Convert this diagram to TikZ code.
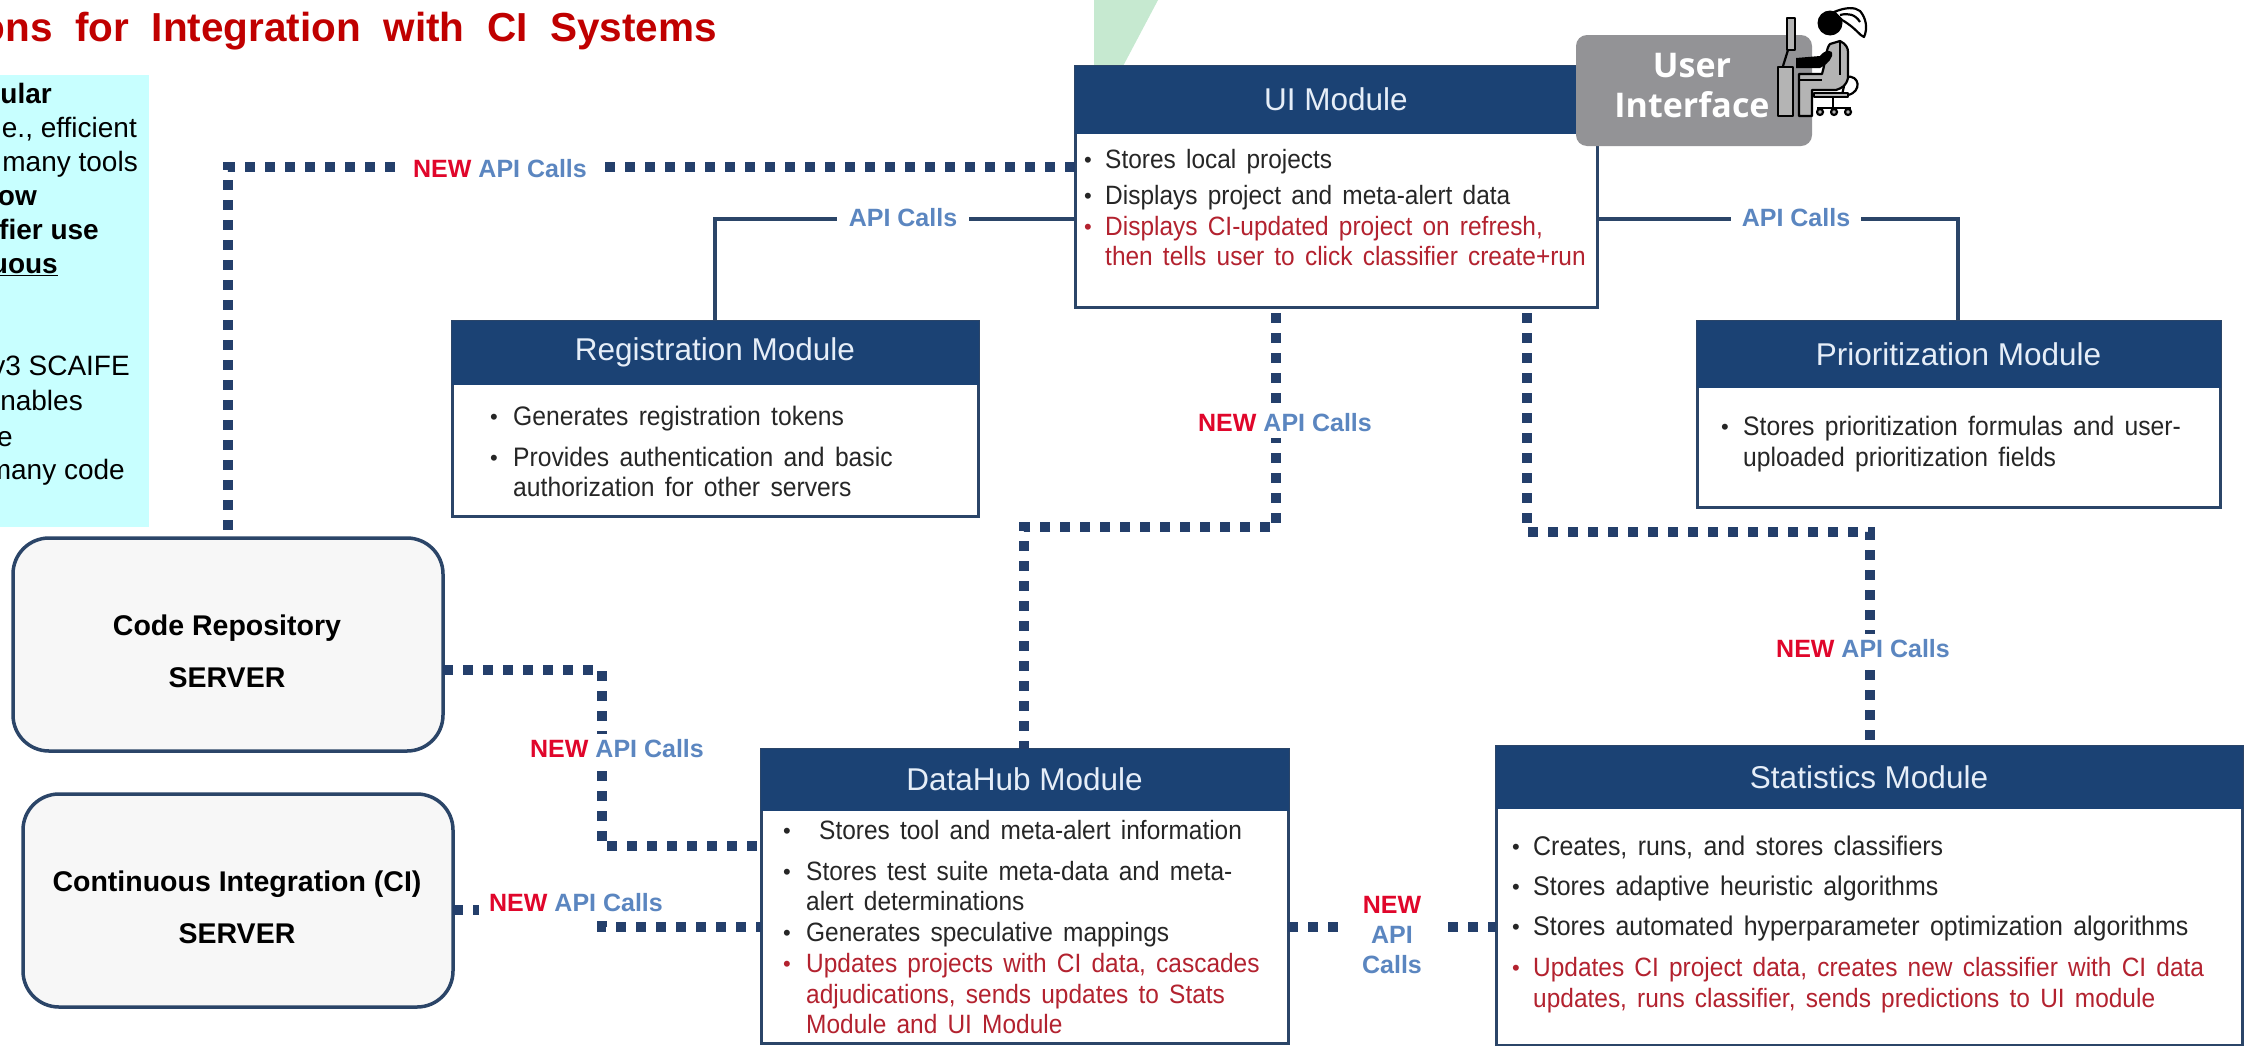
\documentclass[tikz,border=0pt]{standalone}
\usepackage{fontspec}
\setmainfont{Liberation Sans}
\newfontfamily\bodyf[WordSpace=1.5,FakeStretch=0.923]{Liberation Sans}
\newfontfamily\titlef[WordSpace=2]{Liberation Sans}
\newfontfamily\uif{Open Sans}
\definecolor{navy}{HTML}{1B4274}
\definecolor{dotnavy}{HTML}{243F6B}
\definecolor{edge}{HTML}{2B4568}
\definecolor{apiblue}{HTML}{5B86C0}
\definecolor{newred}{HTML}{E0062B}
\definecolor{txtred}{HTML}{B3222F}
\definecolor{txtdark}{HTML}{262626}
\definecolor{cyanbg}{HTML}{C8FFFF}
\definecolor{greentri}{HTML}{C6E9D0}
\definecolor{uigray}{HTML}{939396}
\definecolor{srv}{HTML}{F7F7F7}
\definecolor{headtxt}{HTML}{E6EEF8}
\definecolor{figgray}{HTML}{B4B4B4}
\definecolor{titlered}{HTML}{C00000}
\newcount\lineid
\def\bsize{26.5}
\tikzset{
  modbody/.style={draw=edge,line width=3pt,fill=white,rectangle,inner sep=0,outer sep=0},
  modhead/.style={fill=navy,draw=navy,line width=1pt,rectangle,inner sep=0,outer sep=0,text=headtxt,font=\fontsize{31.5}{31.5}\selectfont},
  srvbox/.style={draw=edge,line width=3.5pt,fill=srv,rounded corners=36pt,rectangle,inner sep=0,outer sep=0},
  srvtext/.style={anchor=base,font=\bfseries\fontsize{28.5}{28.5}\selectfont,text=black,inner sep=0},
  dotline/.style={draw=dotnavy,line width=10pt,dash pattern=on 10pt off 10pt},
  solidline/.style={draw=edge,line width=3.5pt},
  lab/.style={fill=white,inner sep=0,font=\bfseries\fontsize{25}{25}\selectfont},
  cyantext/.style={anchor=base east,inner sep=0,text=black,font=\fontsize{28}{28}\selectfont},
  cyanbold/.style={cyantext,font=\bfseries\fontsize{28}{28}\selectfont},
  linetext/.style={anchor=base west,yshift=-8.5pt,inner sep=0,font=\bodyf\fontsize{\bsize}{\bsize}\selectfont},
  bul/.style={anchor=base,yshift=-7.5pt,inner sep=0,font=\fontsize{22}{22}\selectfont},
  uitext/.style={anchor=base,inner sep=0,text=white,font=\uif\bfseries\fontsize{34}{34}\selectfont},
}
% module box: name, x1, y1, x2, y2, header bottom, title
\newcommand{\modbox}[7]{%
  \node[modbody,minimum width={#4-#2},minimum height={#5-#3}] (#1) at ({(#2+#4)/2},{(#3+#5)/2}) {};
  \node[modhead,minimum width={#4-#2},minimum height={#6-#3}] (#1head) at ({(#2+#4)/2},{(#3+#6)/2}) {#7};
}
% bullet line: colour, x bullet, x text, y, text
\newcommand{\bline}[5]{%
  \global\advance\lineid by 1
  \node[bul,text=#1] (b\the\lineid) at (#2,#4) {\textbullet};
  \node[linetext,text=#1] (t\the\lineid) at (#3,#4) {#5};
}
\newcommand{\contline}[4]{%
  \global\advance\lineid by 1
  \node[linetext,text=#1] (t\the\lineid) at (#2,#3) {#4};
}
\newcommand{\newapi}{\textcolor{newred}{NEW} \textcolor{apiblue}{API Calls}}
\begin{document}
\begin{tikzpicture}[x=1pt,y=-1pt]
\clip (0,0) rectangle (2248,1045);
\fill[white] (0,0) rectangle (2248,1045);
% decoration
\fill[greentri] (1094,0) -- (1158,0) -- (1122,68) -- (1094,68) -- cycle;
% title
\node[anchor=base east,inner sep=0,text=titlered,font=\titlef\bfseries\fontsize{40.5}{40.5}\selectfont] (title) at (717,41.5) {ons for Integration with CI Systems};
% cyan panel
\fill[cyanbg] (0,75) rectangle (149,527);
\node[cyanbold] (c1) at (52,103.5) {ular};
\node[cyantext] (c2) at (137,137.5) {e., efficient};
\node[cyantext] (c3) at (138,171.5) {many tools};
\node[cyanbold] (c4) at (37,205.5) {ow};
\node[cyanbold] (c5) at (99,239.5) {fier use};
\node[cyanbold] (c6) at (58,273.5) {\underline{uous}};
\node[cyantext] (c7) at (130,375) {v3 SCAIFE};
\node[cyantext] (c8) at (83,410) {nables};
\node[cyantext] (c9) at (13,446) {e};
\node[cyantext] (c10) at (125,479.5) {many code};
% modules
\modbox{ui}{1075}{66}{1597}{307}{133}{UI Module}
\modbox{reg}{452}{321}{978}{516}{384}{Registration Module}
\modbox{pri}{1697}{321}{2220}{507}{387}{Prioritization Module}
\modbox{hub}{761}{749}{1288}{1043}{810}{DataHub Module}
\modbox{stat}{1496}{746}{2242}{1045}{808}{Statistics Module}
% servers
\node[srvbox,minimum width=430pt,minimum height=213pt] (repo) at (228,644.5) {};
\node[srvbox,minimum width=430pt,minimum height=213pt] (ci) at (238,900.5) {};
\node[srvtext] (repo1) at (227,635.5) {Code Repository};
\node[srvtext] (repo2) at (227,687) {SERVER};
\node[srvtext] (ci1) at (237,891.5) {Continuous Integration (CI)};
\node[srvtext] (ci2) at (237,943.5) {SERVER};
% corners
\coordinate (k1) at (228,167);
\coordinate (k2) at (602,670);
\coordinate (k3) at (602,846);
\coordinate (k4) at (602,910);
\coordinate (k5) at (602,927);
\coordinate (k6) at (1276,527);
\coordinate (k7) at (1024,527);
\coordinate (k8) at (1527,532);
\coordinate (k9) at (1870,532);
\coordinate (k10) at (715,219);
\coordinate (k11) at (1958,219);
% connectors
\draw[dotline,shorten >=7pt] (ui.west |- k1) -- (k1) -- (repo.north);
\draw[dotline] (repo.east |- k2) -- (k2) -- (k3) -- (hub.west |- k3);
\draw[dotline] (ci.east |- k4) -- (k4) -- (k5) -- (hub.west |- k5);
\draw[dotline,shorten <=6pt] (ui.south -| k6) -- (k6) -- (k7) -- (hub.north -| k7);
\draw[dotline,shorten <=6pt] (ui.south -| k8) -- (k8) -- (k9) -- (stat.north -| k9);
\draw[dotline] (hub.east |- 0,927) -- (stat.west |- 0,927);
\draw[solidline] (ui.west |- k10) -- (k10) -- (reg.north -| k10);
\draw[solidline] (ui.east |- k11) -- (k11) -- (pri.north -| k11);
% labels
\node[lab,inner xsep=11pt,inner ysep=6pt] (l1) at (500,168.5) {\newapi};
\node[lab,inner xsep=10pt,inner ysep=6pt] (l2) at (617,749) {\newapi};
\node[lab,inner xsep=10pt,inner ysep=6pt] (l3) at (576,903) {\newapi};
\node[lab,inner xsep=8pt,inner ysep=6pt] (l4) at (1285,423) {\newapi};
\node[lab,inner xsep=8pt,inner ysep=6pt] (l5) at (1863,649) {\newapi};
\node[lab,inner xsep=12pt,inner ysep=6pt,text=apiblue] (l6) at (903,218) {API Calls};
\node[lab,inner xsep=11pt,inner ysep=6pt,text=apiblue] (l7) at (1796,218) {API Calls};
\node[lab,minimum width=104pt,minimum height=90pt,align=center] (l8) at (1392,935) {\textcolor{newred}{NEW}\\[5pt]\textcolor{apiblue}{API}\\[5pt]\textcolor{apiblue}{Calls}};
% module text
\bline{txtdark}{1088}{1105}{160}{Stores local projects}
\bline{txtdark}{1088}{1105}{196}{Displays project and meta-alert data}
\bline{txtred}{1088}{1105}{227}{Displays CI-updated project on refresh,}
\contline{txtred}{1105}{257}{then tells user to click classifier create+run}
\bline{txtdark}{787}{819}{831}{Stores tool and meta-alert information}
\bline{txtdark}{787}{806}{872}{Stores test suite meta-data and meta-}
\contline{txtdark}{806}{902}{alert determinations}
\bline{txtdark}{787}{806}{933}{Generates speculative mappings}
\bline{txtred}{787}{806}{964}{Updates projects with CI data, cascades}
\contline{txtred}{806}{995}{adjudications, sends updates to Stats}
\contline{txtred}{806}{1025}{Module and UI Module}
\bline{txtred}{1516}{1533}{968}{Updates CI project data, creates new classifier with CI data}
\contline{txtred}{1533}{999}{updates, runs classifier, sends predictions to UI module}
\def\bsize{26.75}
\bline{txtdark}{494}{513}{417}{Generates registration tokens}
\bline{txtdark}{494}{513}{458}{Provides authentication and basic}
\contline{txtdark}{513}{488}{authorization for other servers}
\bline{txtdark}{1725}{1743}{427}{Stores prioritization formulas and user-}
\contline{txtdark}{1743}{458}{uploaded prioritization fields}
\def\bsize{27}
\bline{txtdark}{1516}{1533}{847}{Creates, runs, and stores classifiers}
\bline{txtdark}{1516}{1533}{887}{Stores adaptive heuristic algorithms}
\bline{txtdark}{1516}{1533}{927}{Stores automated hyperparameter optimization algorithms}
% user interface
\node[fill=uigray,rounded corners=11pt,minimum width=236pt,minimum height=111pt,inner sep=0] (uibox) at (1694,90.5) {};
\node[uitext] (u1) at (1692,77) {User};
\node[uitext] (u2) at (1692,117) {Interface};
% person icon
\begin{scope}[line width=2.2pt,draw=black,line join=round]
\draw[fill=figgray] (1787,18) rectangle (1795,50);
\draw (1788,50) -- (1783,66);
\draw[fill=figgray] (1778,67) rectangle (1793,116);
% back cushion
\draw[fill=white] (1846,77) .. controls (1860,74) and (1862,92) .. (1848,95) -- (1842,95) -- cycle;
% seated body
\draw[fill=figgray] (1799,74) -- (1822,74) .. controls (1826,60) and (1826,48) .. (1830,44) -- (1840,41) .. controls (1846,44) and (1848,48) .. (1848,52) -- (1848,78) .. controls (1846,86) and (1842,88) .. (1836,90) -- (1812,90) -- (1812,116) -- (1799,116) -- cycle;
\draw (1799,80) -- (1822,80);
\draw (1840,42) -- (1840,75);
% seat and base
\draw[fill=figgray] (1814,93) rectangle (1848,97);
\draw (1833,97) -- (1833,108);
\draw (1817,108) -- (1851,108);
\draw[fill=figgray] (1820,112) circle (3pt);
\draw[fill=figgray] (1834,112) circle (3pt);
\draw[fill=figgray] (1848,112) circle (3pt);
% arms
\fill[black] (1796,58) -- (1820,56) .. controls (1824,50) and (1834,48) .. (1832,56) .. controls (1830,62) and (1824,66) .. (1820,68) -- (1796,68) -- cycle;
% head and hair
\fill[black] (1830,23) circle (12.5pt);
\draw[fill=white] (1834,12) .. controls (1846,7) and (1855,7) .. (1860,11) .. controls (1866,18) and (1868,28) .. (1864,37) .. controls (1860,36) and (1856,28) .. (1842,20) -- cycle;
\draw (1840,15) .. controls (1848,13) and (1855,14) .. (1860,22);
\end{scope}
\end{tikzpicture}
\end{document}
